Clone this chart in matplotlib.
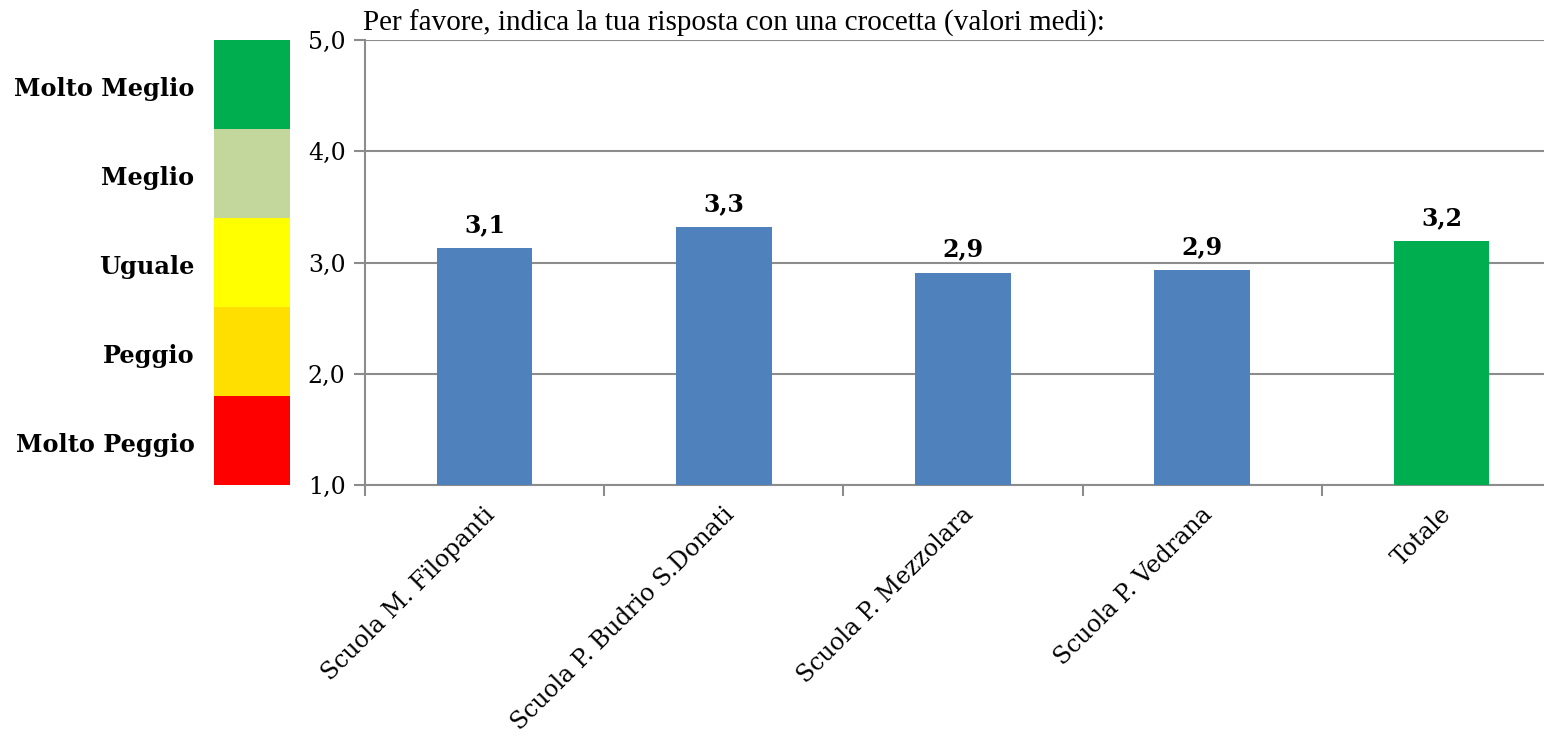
import matplotlib
matplotlib.use("Agg")
import matplotlib.pyplot as plt
import numpy as np

categories = ["Scuola M. Filopanti", "Scuola P. Budrio S.Donati", "Scuola P. Mezzolara",
              "Scuola P. Vedrana", "Totale"]
values = [3.13, 3.32, 2.91, 2.93, 3.19]
value_labels = ["3,1", "3,3", "2,9", "2,9", "3,2"]
bar_colors = ["#4f81bd", "#4f81bd", "#4f81bd", "#4f81bd", "#00ae4f"]

scale_labels = ["Molto Peggio", "Peggio", "Uguale", "Meglio", "Molto Meglio"]
scale_colors = ["#ff0000", "#ffdf00", "#ffff00", "#c3d69b", "#00ae4f"]

yticks = [1.0, 2.0, 3.0, 4.0, 5.0]
ytick_labels = ["1,0", "2,0", "3,0", "4,0", "5,0"]
title = "Per favore, indica la tua risposta con una crocetta (valori medi):"

W, H = 1544, 741
fig = plt.figure(figsize=(W / 100, H / 100), dpi=100)

serif = "DejaVu Serif"
grid_col = "#8c8c8c"

y_top = 40
y_bot = 485
ax = fig.add_axes([365 / W, (H - y_bot) / H, (W - 365) / W, (y_bot - y_top) / H])
x = np.arange(len(categories))
ax.bar(x, [v - 1.0 for v in values], bottom=1.0, width=0.4, color=bar_colors, zorder=3)
ax.set_yticks(yticks)
ax.set_yticklabels(ytick_labels, fontfamily=serif, fontsize=17)
ax.yaxis.grid(True, color=grid_col, linewidth=1.5, zorder=0)
for s in ["top", "right"]:
    ax.spines[s].set_visible(False)
for s in ["left", "bottom"]:
    ax.spines[s].set_color(grid_col)
    ax.spines[s].set_linewidth(1.5)
ax.tick_params(axis="y", direction="out", length=8, width=1.5, color=grid_col, pad=6)
ax.set_xticks(np.arange(len(categories) + 1) - 0.5)
ax.set_xticklabels([])
ax.tick_params(axis="x", direction="out", length=8, width=1.5, color=grid_col)
right_ext = 4.5 - (1561 - 1544) / 239.0
ax.set_xlim(-0.5, right_ext)
ax.set_ylim(1.0, 5.0)
for xi, c in zip(x, categories):
    ax.annotate(c, xy=(xi, 1.0), xycoords="data", xytext=(-1, -13), textcoords="offset points",
                rotation=45, ha="right", va="top", rotation_mode="anchor",
                fontfamily=serif, fontsize=17, annotation_clip=False)
for xi, v, lab in zip(x, values, value_labels):
    ax.annotate(lab, xy=(xi, v), xytext=(0, 8), textcoords="offset points",
                ha="center", va="bottom", fontfamily=serif, fontweight="bold", fontsize=17)

fig.text(363 / W, 1 - 23 / H, title, fontfamily="Liberation Serif", fontsize=21,
         ha="left", va="center")

# Left colour scale
cax = fig.add_axes([214 / W, (H - y_bot) / H, (290 - 214) / W, (y_bot - y_top) / H])
for i, (lab, col) in enumerate(zip(scale_labels, scale_colors)):
    cax.bar(0, 1, bottom=i, width=1, color=col, linewidth=0)
    cax.annotate(lab, xy=(-0.5, i + 0.5), xycoords="data", xytext=(-14, -3),
                 textcoords="offset points", ha="right", va="center",
                 fontfamily=serif, fontweight="bold", fontsize=17.3, annotation_clip=False)
cax.set_xlim(-0.5, 0.5)
cax.set_ylim(0, 5)
cax.set_yticks([])
cax.set_xticks([])
for s in cax.spines.values():
    s.set_visible(False)

fig.savefig("out.png", dpi=100)
